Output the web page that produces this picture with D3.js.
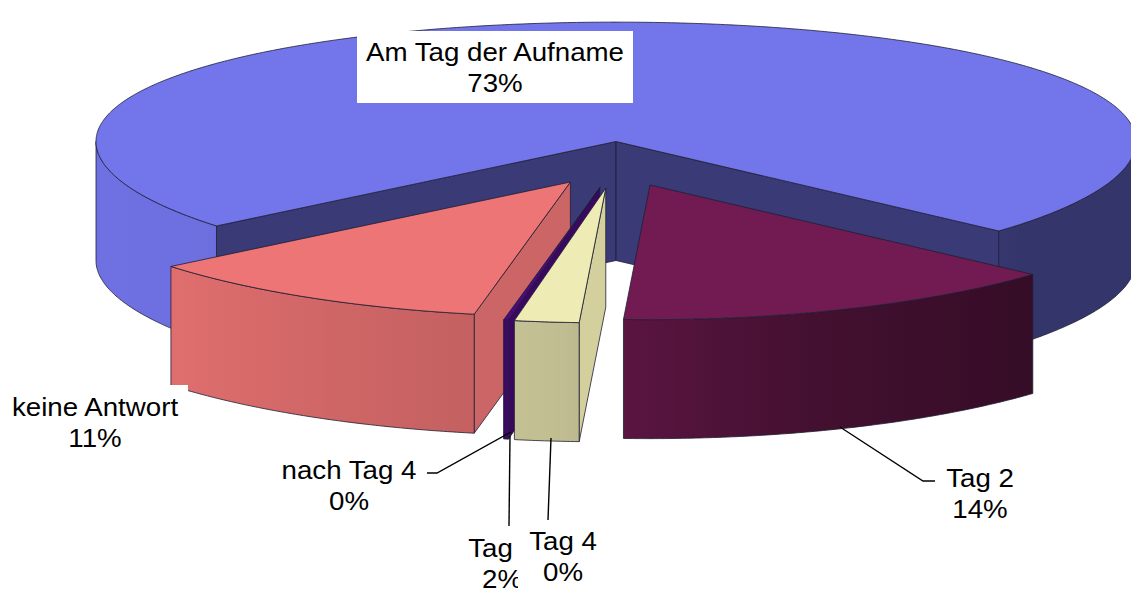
<!DOCTYPE html>
<html>
<head>
<meta charset="utf-8">
<script src="https://cdn.jsdelivr.net/npm/d3@7"></script>
<style>
body { margin: 0; background: #fff; }
svg { display: block; }
text { font-family: "Liberation Sans", Arial, sans-serif; font-size: 26px; fill: #000; }
</style>
</head>
<body>
<svg id="chart"></svg>
<script>
// ---------------------------- Daten -----------------------------------
const categories = ["Am Tag der Aufname", "Tag 2", "Tag 3", "Tag 4", "nach Tag 4", "keine Antwort"];
const values = [73, 14, 2, 0, 0.15, 11];
const percents = ["73%", "14%", "2%", "0%", "0%", "11%"];

// Farben (Deckfläche / Schnittfläche)
const topColors = ["#7375eb", "#721b52", "#eeebb4", "#8c8c3c", "#4a0c7c", "#ee7575"];
const sideColors = ["#393a76", "#4a1036", "#d3d09e", "#6c6c2c", "#3a0860", "#cc6666"];
const explode = [0, 1, 1, 1, 1, 1];

// ---------------------------- Setup -----------------------------------
const width = 1131;
const height = 594;
const svg = d3.select('#chart')
  .attr('width', width)
  .attr('height', height);

const cx = 616, cy = 141.5;   // centre of the top face
const rx = 520, ry = 127;     // ellipse radii
const persp = 0.06;           // front part slightly bigger
const depth = 119;            // height of the pie
const exX = 90, exY = 47;     // explode distance
const startDeg = -129.8;

const rad = Math.PI / 180;
const pie = d3.pie().sort(null)
  .startAngle(startDeg * rad)
  .endAngle(startDeg * rad + 2 * Math.PI);

const arcs = pie(values).map((d, i) => ({ ...d, i: i, mid: (d.startAngle + d.endAngle) / 2 }));

// darkening of the outer wall depending on the angle
const shade = d3.scaleLinear()
  .domain([90, 130, 160, 185, 195, 235, 270])
  .range([2.2, 2.2, 1.5, 0.6, 0.5, 0.12, 0.1])
  .clamp(true);

const line = d3.line();
const defs = svg.append('defs');

function offset(d) {
  if (!explode[d.i]) return [0, 0];
  return [exX * Math.sin(d.mid), -exY * Math.cos(d.mid)];
}

function pt(a, r, h, off) {
  const c = -Math.cos(a) * r;
  return [cx + off[0] + r * rx * Math.sin(a), cy + off[1] + ry * c * (1 + persp * c) + h];
}

function arcPts(a0, a1, h, off) {
  const n = Math.max(2, Math.ceil(Math.abs(a1 - a0) / (0.5 * rad)));
  const pts = [];
  for (let k = 0; k <= n; k++) {
    pts.push(pt(a0 + (a1 - a0) * k / n, 1, h, off));
  }
  return pts;
}

function frontRanges(a0, a1) {
  const out = [];
  [[Math.PI / 2, 3 * Math.PI / 2], [-3 * Math.PI / 2, -Math.PI / 2], [5 * Math.PI / 2, 7 * Math.PI / 2]].forEach(function (r) {
    const b0 = Math.max(a0, r[0]), b1 = Math.min(a1, r[1]);
    if (b1 > b0) out.push([b0, b1]);
  });
  return out;
}

function degOf(a) {
  return ((a / rad) % 360 + 360) % 360;
}

const edge = '#1e1e34';

function drawFace(g, a, off, color) {
  const pts = [pt(a, 0, 0, off), pt(a, 1, 0, off), pt(a, 1, depth, off), pt(a, 0, depth, off)];
  g.append('path')
    .attr('d', line(pts) + 'Z')
    .attr('fill', color)
    .attr('stroke', edge)
    .attr('stroke-width', 0.8)
    .attr('stroke-linejoin', 'round');
}

function drawWall(g, d, b0, b1, off, id) {
  const topArc = arcPts(b0, b1, 0, off);
  const botArc = arcPts(b1, b0, depth, off);
  const xs = topArc.map(p => p[0]);
  const xmin = d3.min(xs), xmax = d3.max(xs);
  const grad = defs.append('linearGradient')
    .attr('id', id)
    .attr('gradientUnits', 'userSpaceOnUse')
    .attr('x1', xmin).attr('x2', xmax)
    .attr('y1', 0).attr('y2', 0);
  const n = 12;
  const stops = [];
  for (let k = 0; k <= n; k++) {
    const a = b0 + (b1 - b0) * k / n;
    const x = pt(a, 1, 0, off)[0];
    stops.push({ o: xmax > xmin ? (x - xmin) / (xmax - xmin) : 0, c: d3.color(topColors[d.i]).darker(shade(degOf(a))).formatHex() });
  }
  stops.sort((p, q) => p.o - q.o);
  stops.forEach(s => grad.append('stop').attr('offset', s.o).attr('stop-color', s.c));
  g.append('path')
    .attr('d', line(topArc.concat(botArc)) + 'Z')
    .attr('fill', 'url(#' + id + ')')
    .attr('stroke', edge)
    .attr('stroke-width', 0.8)
    .attr('stroke-linejoin', 'round');
}

// painter's order: slices far from the front first
const order = arcs.filter(d => d.value > 0)
  .sort((a, b) => Math.abs(degOf(b.mid) - 180) - Math.abs(degOf(a.mid) - 180));

order.forEach(function (d) {
  const g = svg.append('g').attr('class', 'slice');
  const off = offset(d);
  if (Math.sin(d.startAngle) < 0) drawFace(g, d.startAngle, off, sideColors[d.i]);
  if (Math.sin(d.endAngle) > 0) drawFace(g, d.endAngle, off, sideColors[d.i]);
  frontRanges(d.startAngle, d.endAngle).forEach(function (r, k) {
    drawWall(g, d, r[0], r[1], off, 'wall' + d.i + '_' + k);
  });
  const top = [pt(0, 0, 0, off)].concat(arcPts(d.startAngle, d.endAngle, 0, off));
  g.append('path')
    .attr('d', line(top) + 'Z')
    .attr('fill', topColors[d.i])
    .attr('stroke', edge)
    .attr('stroke-width', 0.8)
    .attr('stroke-linejoin', 'round');
});

// ---------------------------- Beschriftung -----------------------------------
const stretch = 1.065;  // labels look slightly wider than Arial
const labelLayout = [
  { i: 0, x: 495, y: 61, box: [357, 31, 276, 72], leader: null },
  { i: 1, x: 980, y: 487, box: [938, 462, 84, 64], leader: [[840, 427], [923, 481], [935, 481]] },
  { i: 2, x: 502, y: 557, box: [462, 534, 80, 60], leader: [[509, 526], [510, 436]] },
  { i: 3, x: 563, y: 550, box: [518, 526, 87, 68], leader: [[548, 520], [551, 438]] },
  { i: 4, x: 349, y: 479, box: [276, 455, 147, 63], leader: [[427, 473], [437, 473], [511, 432]] },
  { i: 5, x: 95, y: 416, box: [4, 385, 184, 71], leader: null }
];

labelLayout.forEach(function (l) {
  if (l.leader) {
    svg.append('path')
      .attr('d', line(l.leader))
      .attr('fill', 'none')
      .attr('stroke', '#000')
      .attr('stroke-width', 1.4);
  }
});

labelLayout.forEach(function (l) {
  svg.append('rect')
    .attr('x', l.box[0]).attr('y', l.box[1])
    .attr('width', l.box[2]).attr('height', l.box[3])
    .attr('fill', '#fff');
  const t = svg.append('text')
    .attr('text-anchor', 'middle')
    .attr('transform', 'translate(' + l.x + ',' + l.y + ') scale(' + stretch + ',1)');
  t.append('tspan').attr('x', 0).attr('y', 0).text(categories[l.i]);
  t.append('tspan').attr('x', 0).attr('y', 31).text(percents[l.i]);
});
</script>
</body>
</html>
